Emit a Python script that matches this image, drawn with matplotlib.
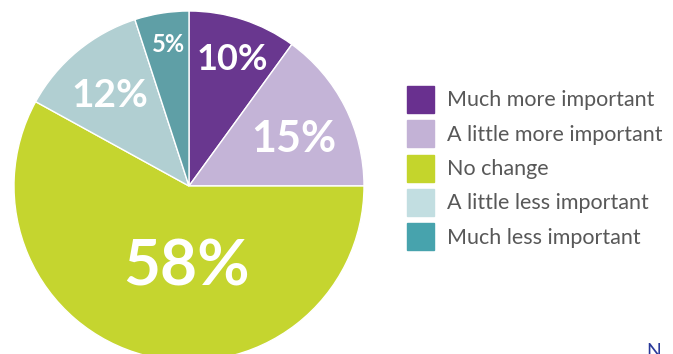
import matplotlib
matplotlib.use("Agg")
import matplotlib.pyplot as plt
from matplotlib.patches import Rectangle

categories = ["Much more important", "A little more important", "No change",
              "A little less important", "Much less important"]
values = [10, 15, 58, 12, 5]
labels = ["10%", "15%", "58%", "12%", "5%"]
pie_colors = ["#69378f", "#c4b4d7", "#c5d52f", "#b1cfd2", "#5f9fa6"]
legend_colors = ["#69308f", "#c3b2d6", "#c4d52c", "#c2dee1", "#47a3ad"]

# label placement (pie data coords, baseline) and sizes
label_xy = [(0.246, 0.663), (0.60, 0.194), (-0.017, -0.566), (-0.451, 0.451), (-0.12, 0.766)]
label_sz = [26, 31, 46, 28, 17]

W, H = 673, 354
fig = plt.figure(figsize=(W / 100, H / 100), dpi=100)

cx, cy, r = 189, 186, 175
ax = fig.add_axes([(cx - r) / W, (H - cy - r) / H, 2 * r / W, 2 * r / H])
wedges, _ = ax.pie(values, colors=pie_colors, startangle=90, counterclock=False,
                   radius=1, wedgeprops=dict(edgecolor="white", linewidth=1.0))
ax.set_xlim(-1, 1)
ax.set_ylim(-1, 1)
ax.set_aspect("equal")
ax.axis("off")

for lab, (x, y), sz in zip(labels, label_xy, label_sz):
    ax.text(x, y, lab, ha="center", va="baseline",
            color="white", fontsize=sz, fontweight="bold", family="Lato")

# legend
y0, dy = 99.5, 34.25
for i, (cat, col) in enumerate(zip(categories, legend_colors)):
    yc = y0 + i * dy
    fig.patches.append(Rectangle((407 / W, (H - yc - 13.5) / H), 27 / W, 27 / H,
                                 transform=fig.transFigure, color=col, figure=fig))
    fig.text(447 / W, (H - yc - 7) / H, cat, ha="left", va="baseline",
             fontsize=15.5, color="#585858", family="Lato")

fig.text(646 / W, (H - 360) / H, "N", ha="left", va="bottom", fontsize=14,
         color="#2a3a9a", family="Lato")

fig.savefig("out.png", dpi=100)
